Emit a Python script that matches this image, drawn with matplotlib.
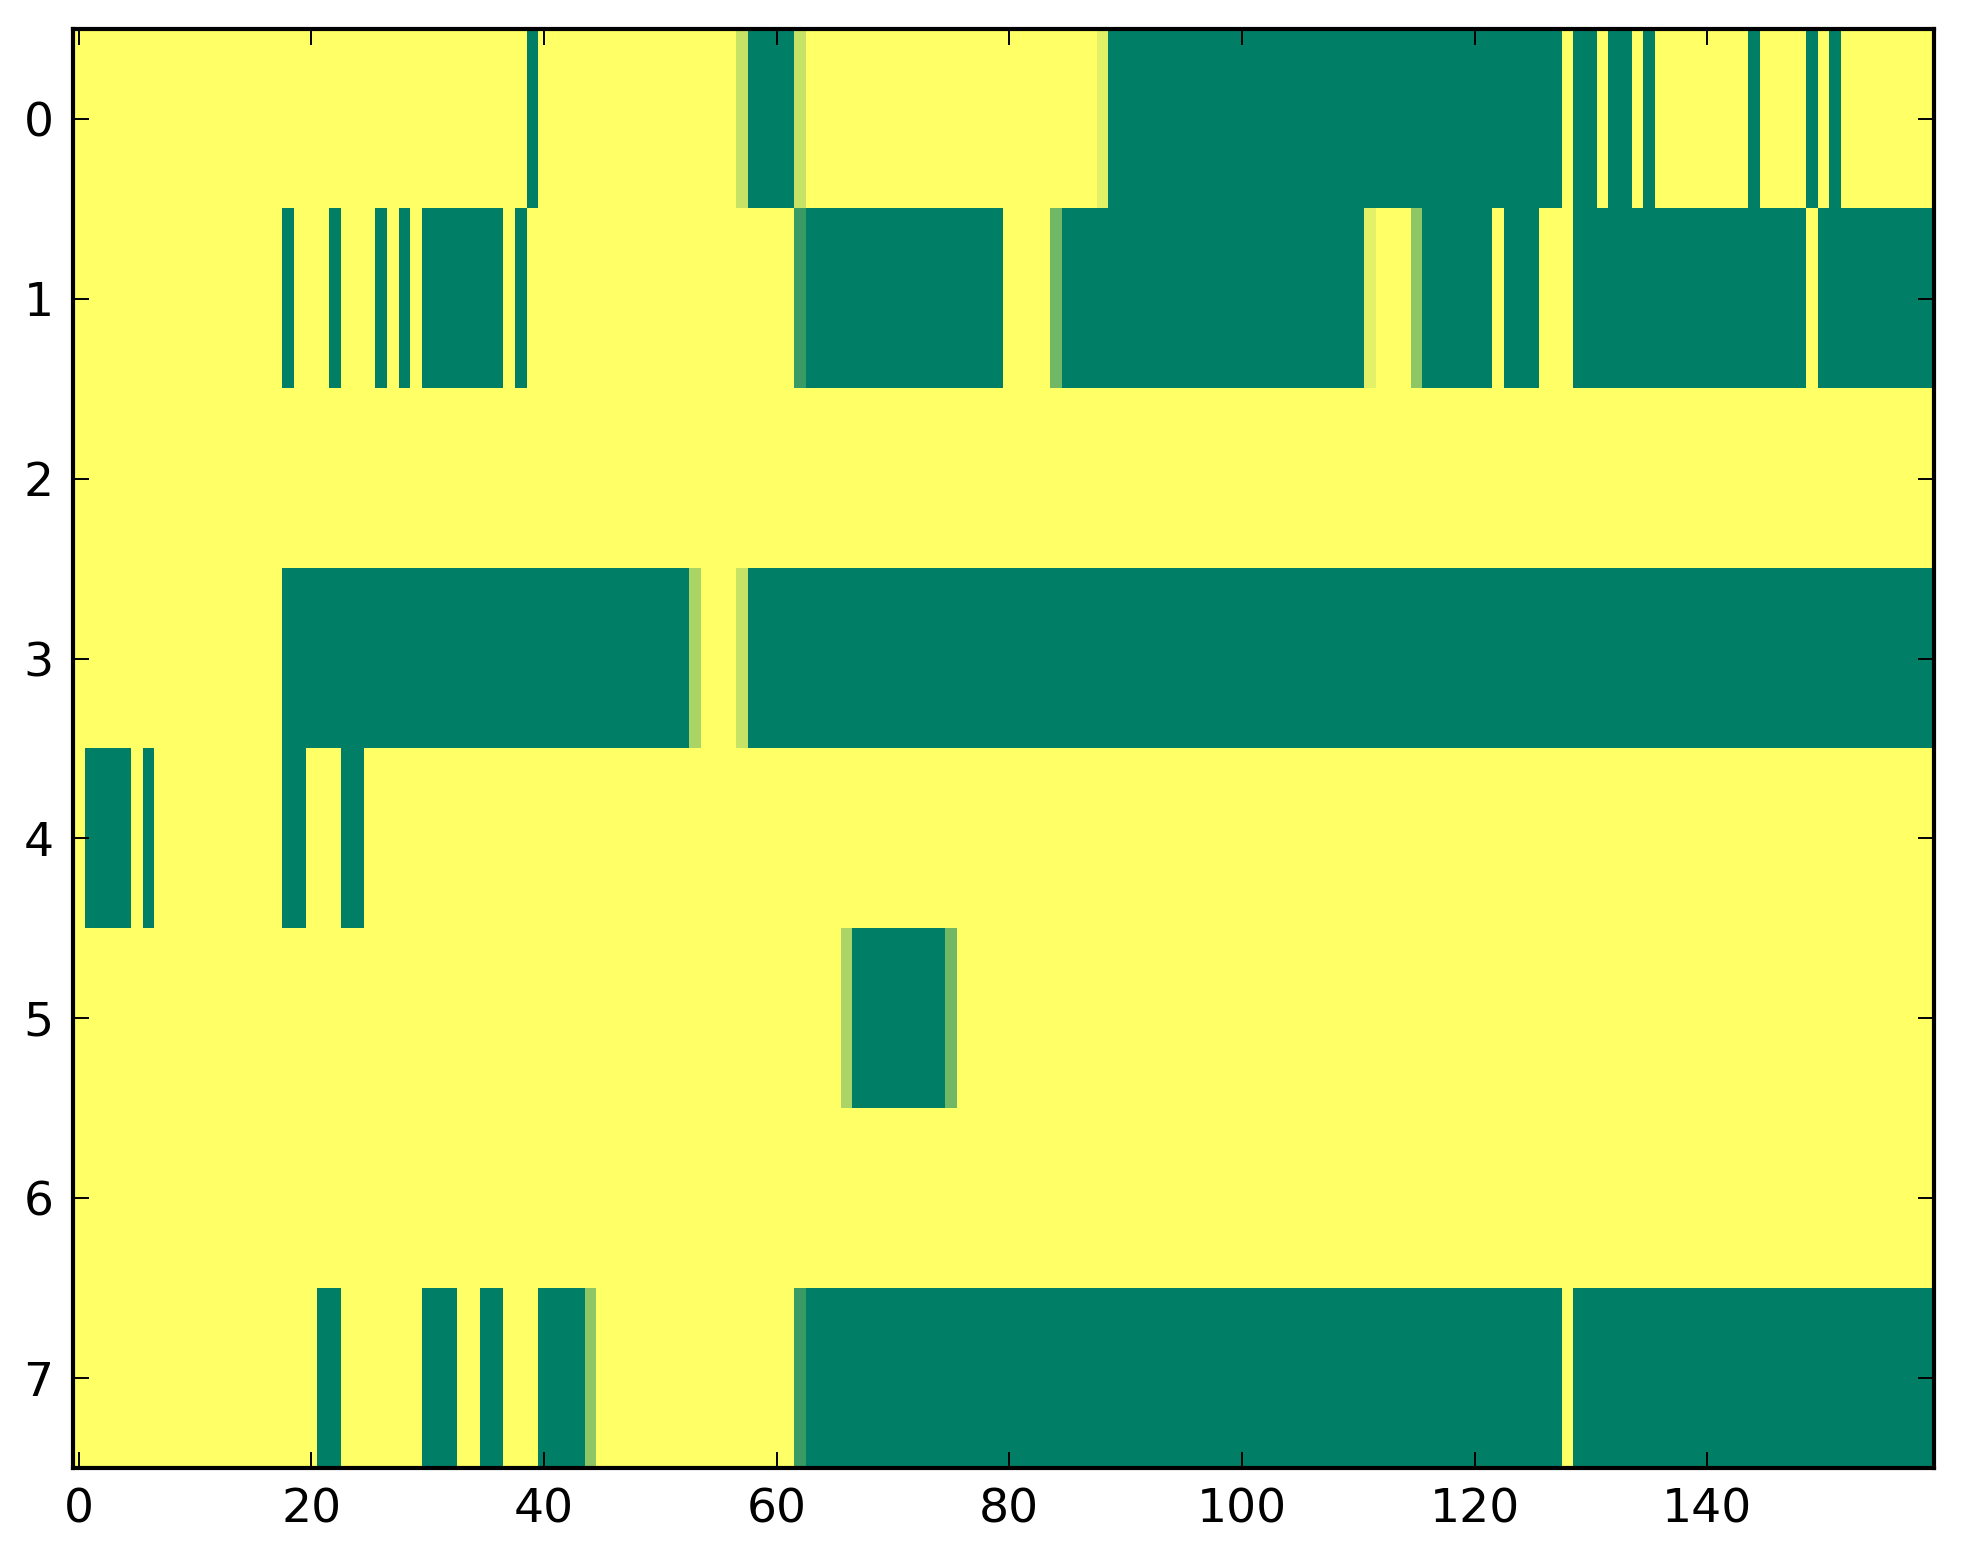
import numpy as np
import matplotlib
matplotlib.use("Agg")
import matplotlib.pyplot as plt

n_rows = 8
n_cols = 160

# green (value 0) runs per row, inclusive column ranges; everything else is 1
green_runs = {
    0: [(39, 39), (58, 61), (89, 127), (129, 130), (132, 133), (135, 135),
        (144, 144), (149, 149), (151, 151)],
    1: [(18, 18), (22, 22), (26, 26), (28, 28), (30, 36), (38, 38), (63, 79),
        (85, 110), (116, 121), (123, 125), (129, 148), (150, 159)],
    2: [],
    3: [(18, 52), (58, 159)],
    4: [(1, 4), (6, 6), (18, 19), (23, 24)],
    5: [(67, 74)],
    6: [],
    7: [(21, 22), (30, 32), (35, 36), (40, 43), (63, 127), (129, 159)],
}

# in-between cells (row, col) -> value
partial_cells = {
    (0, 57): 7 / 9, (0, 62): 7 / 9, (0, 88): 8 / 9,
    (1, 62): 2 / 9, (1, 84): 4 / 9, (1, 111): 8 / 9, (1, 115): 5 / 9,
    (3, 53): 6 / 9, (3, 57): 7 / 9,
    (5, 66): 6 / 9, (5, 75): 4 / 9,
    (7, 44): 5 / 9, (7, 62): 2 / 9,
}

data = np.ones((n_rows, n_cols))
for row, runs in green_runs.items():
    for start, end in runs:
        data[row, start:end + 1] = 0.0
for (row, col), val in partial_cells.items():
    data[row, col] = val

plt.rcParams['font.family'] = ['DejaVu Sans']
fig = plt.figure(figsize=(9.815, 7.82), dpi=200)
ax = fig.add_axes([0.0372, 0.0614, 0.948, 0.9201])

ax.imshow(data, cmap='summer', vmin=0, vmax=1, aspect='auto',
          interpolation='nearest')

ax.set_xticks(np.arange(0, 141, 20))
ax.set_yticks(np.arange(0, 8))
ax.tick_params(direction='in', top=True, right=True, length=5.8, width=0.7,
               labelsize=17, pad=7)
for spine in ax.spines.values():
    spine.set_linewidth(1.5)

fig.savefig("out.png", dpi=200)
